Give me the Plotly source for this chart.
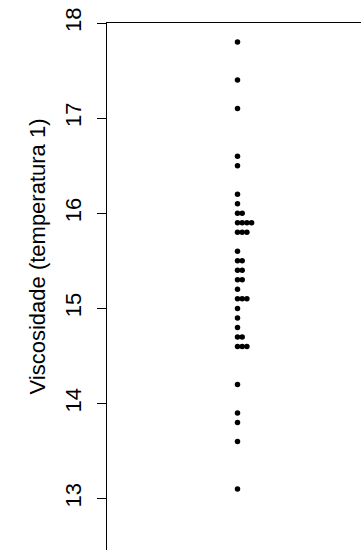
import plotly.graph_objects as go
from collections import Counter

# Viscosity readings at temperature 1
viscosidade = [
    17.8, 17.4, 17.1, 16.6, 16.5, 16.2, 16.1,
    16.0, 16.0,
    15.9, 15.9, 15.9, 15.9,
    15.8, 15.8, 15.8,
    15.6,
    15.5, 15.5,
    15.4, 15.4,
    15.3, 15.3,
    15.2,
    15.1, 15.1, 15.1,
    15.0, 14.9, 14.8,
    14.7, 14.7,
    14.6, 14.6, 14.6,
    14.2, 13.9, 13.8, 13.6, 13.1,
]
y_ticks = [13, 14, 15, 16, 17, 18]
y_title = "Viscosidade (temperatura 1)"

# Stacked strip chart: repeated values are placed side by side
seen = Counter()
xs, ys = [], []
for v in viscosidade:
    xs.append(seen[v])
    ys.append(v)
    seen[v] += 1

font_family = "Liberation Sans, Arial, sans-serif"

fig = go.Figure(
    go.Scatter(
        x=xs, y=ys, mode="markers",
        marker=dict(color="black", size=5.5, line=dict(width=0)),
        hoverinfo="y",
    )
)

fig.update_layout(
    width=361, height=550,
    margin=dict(l=107, r=0, t=23, b=0, pad=0),
    plot_bgcolor="white", paper_bgcolor="white",
    showlegend=False,
    font=dict(family=font_family, color="black", size=22),
)

fig.update_xaxes(
    range=[-27.77, 26.28],
    side="top",
    showline=True, linecolor="black", linewidth=1,
    showticklabels=False, ticks="", showgrid=False, zeroline=False,
)

fig.update_yaxes(
    range=[12.46, 18],
    tickvals=y_ticks, ticktext=[str(t) for t in y_ticks],
    tickangle=-90,
    ticks="outside", ticklen=9, tickwidth=1, tickcolor="black",
    ticklabelstandoff=7,
    showline=True, linecolor="black", linewidth=1,
    showgrid=False, zeroline=False,
    tickfont=dict(size=22, family=font_family, color="black"),
    automargin=False,
)

# Vertical axis title
fig.add_annotation(
    text=y_title, textangle=-90,
    xref="paper", yref="paper", x=0, y=0.557,
    xanchor="center", yanchor="middle", xshift=-70,
    showarrow=False,
    font=dict(size=22, family=font_family, color="black"),
)

fig.write_html("out.html")
